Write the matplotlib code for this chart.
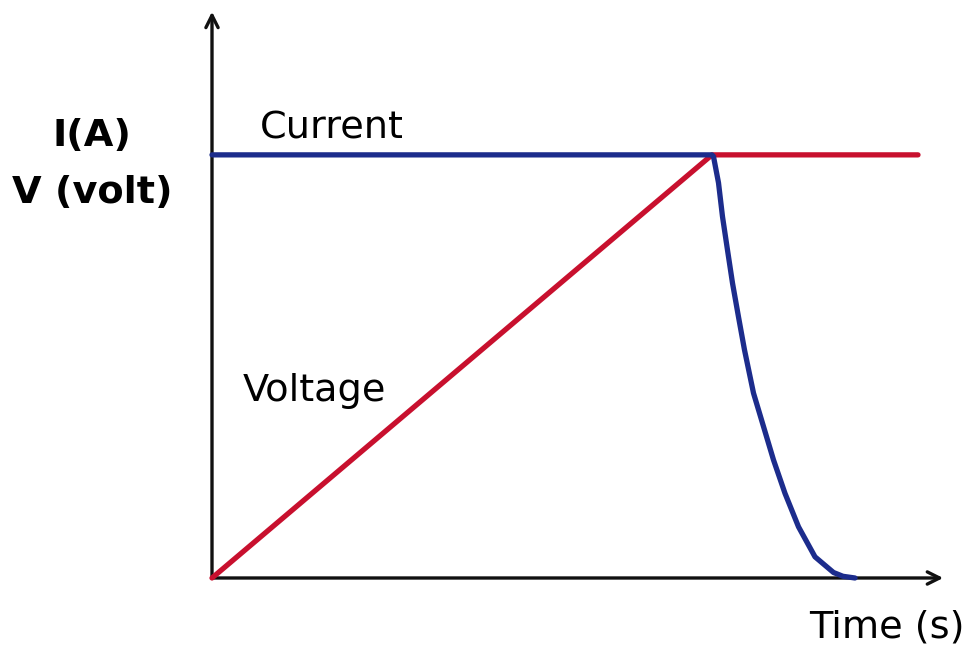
import matplotlib.pyplot as plt

# time axis: knee at t = 10, level value = 1
current_t = [0, 10, 10.03, 10.13, 10.21, 10.31, 10.41, 10.53, 10.65, 10.83,
             11.03, 11.23, 11.46, 11.73, 12.06, 12.43, 12.62, 12.86]
current_v = [1, 1, 0.996, 0.934, 0.854, 0.775, 0.697, 0.617, 0.539, 0.437,
             0.358, 0.279, 0.200, 0.121, 0.050, 0.013, 0.004, 0.0]
voltage_t = [0, 10, 14.12]
voltage_v = [0, 1, 1]

blue = "#1c2c8c"
red = "#c8102e"
font = "DejaVu Sans"

fig = plt.figure(figsize=(9.71, 6.55), dpi=100)
ax = fig.add_axes([0, 0, 1, 1])
ax.set_xlim(-4.24, 15.18)
ax.set_ylim(-0.182, 1.366)
ax.axis("off")

# axes with arrows
ax.annotate("", xy=(14.68, 0), xytext=(-0.02, 0),
            arrowprops=dict(arrowstyle="->", lw=2.4, color="#111111", mutation_scale=22))
ax.annotate("", xy=(0, 1.345), xytext=(0, -0.005),
            arrowprops=dict(arrowstyle="->", lw=2.4, color="#111111", mutation_scale=22))

ax.plot(voltage_t, voltage_v, color=red, lw=3.8, solid_capstyle="round", zorder=3)
ax.plot(current_t, current_v, color=blue, lw=3.8, solid_capstyle="round",
        solid_joinstyle="round", zorder=4)

ax.text(-2.4, 1.045, "I(A)", fontsize=27.5, fontweight="bold", family=font,
        ha="center", va="center")
ax.text(-2.4, 0.910, "V (volt)", fontsize=27.5, fontweight="bold", family=font,
        ha="center", va="center")
ax.text(0.96, 1.062, "Current", fontsize=27.5, family=font, ha="left", va="center")
ax.text(0.62, 0.443, "Voltage", fontsize=27.5, family=font, ha="left", va="center")
ax.text(15.06, -0.118, "Time (s)", fontsize=27.5, family=font, ha="right", va="center")

fig.savefig("out.png", dpi=100)
